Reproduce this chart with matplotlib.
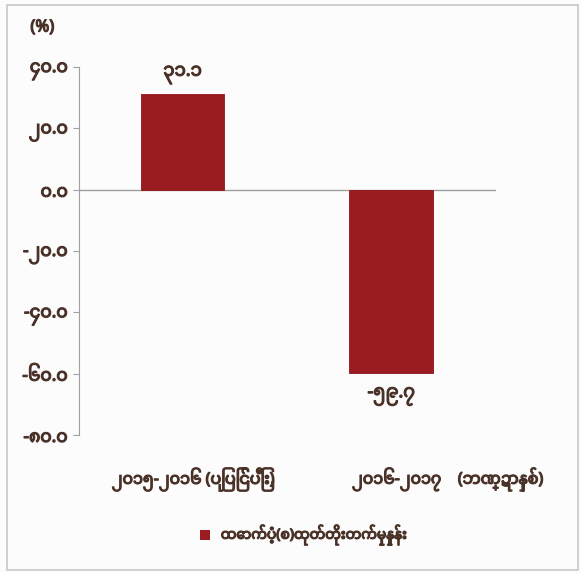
import matplotlib
matplotlib.use("Agg")
import matplotlib.pyplot as plt
import matplotlib.patheffects as pe
from matplotlib.patches import Rectangle

# ဒေတာ
categories = ["၂၀၁၅-၂၀၁၆ (ပြုပြင်ပြီး)", "၂၀၁၆-၂၀၁၇    (ဘဏ္ဍာနှစ်)"]
values = [31.1, -59.7]
value_labels = ["၃၁.၁", "-၅၉.၇"]
yticks = [40, 20, 0, -20, -40, -60, -80]
ytick_labels = ["၄၀.၀", "၂၀.၀", "၀.၀", "-၂၀.၀", "-၄၀.၀", "-၆၀.၀", "-၈၀.၀"]
legend_label = "ထောက်ပံ့(စ)ထုတ်တိုးတက်မှုနှုန်း"
unit_label = "(%)"

fonts = ["Noto Sans Myanmar", "Padauk", "Myanmar Text", "DejaVu Sans"]
plt.rcParams["font.family"] = fonts
txt_color = "#4a3228"
bar_color = "#9b1c20"
# fake bold: the Myanmar font has no bold face here
bold = [pe.withStroke(linewidth=0.9, foreground=txt_color)]

fig = plt.figure(figsize=(5.81, 5.73), dpi=100, facecolor="#fcfcfd")
# outer frame
fig.patches.append(Rectangle((0.012, 0.006), 0.982, 0.985, transform=fig.transFigure,
                             fill=False, edgecolor="#c8c8c8", linewidth=1.2))

ax = fig.add_axes([0.136, 0.241, 0.717, 0.642])
ax.set_facecolor("#fcfcfd")

x = list(range(len(categories)))
ax.bar(x, values, width=0.4, color=bar_color, edgecolor="#8a1519", linewidth=0.6, zorder=3)
ax.axhline(0, color="#a0a0a0", linewidth=1.0, zorder=2)

ax.set_xlim(-0.496, 1.5)
ax.set_ylim(-80, 40)
ax.set_yticks(yticks)
ax.set_yticklabels(ytick_labels, fontsize=12.5, color=txt_color)
for t in ax.get_yticklabels():
    t.set_path_effects(bold)
ax.tick_params(axis="y", direction="out", length=4, color="#a0a0a0", pad=4)
ax.set_xticks([])

for s in ["top", "right", "bottom"]:
    ax.spines[s].set_visible(False)
ax.spines["left"].set_color("#a0a0a0")

# category labels under the plot
for xi, lab in zip(x, categories):
    ax.annotate(lab, (xi + 0.05 + 0.22 * xi, 0), xycoords=("data", "axes fraction"),
                xytext=(0, -32), textcoords="offset points", ha="center", va="center",
                fontsize=11.5, color=txt_color, path_effects=bold)

# value labels
for xi, v, lab in zip(x, values, value_labels):
    off = 14 if v > 0 else -17
    ax.annotate(lab, (xi, v), xytext=(0, off), textcoords="offset points",
                ha="center", va="center", fontsize=13, color=txt_color, path_effects=bold)

fig.text(0.073, 0.952, unit_label, ha="center", va="center", fontsize=12,
         fontweight="bold", color=txt_color, path_effects=bold)

# legend
fig.patches.append(Rectangle((0.345, 0.057), 0.017, 0.018, transform=fig.transFigure,
                             facecolor=bar_color, edgecolor="none"))
fig.text(0.38, 0.066, legend_label, ha="left", va="center", fontsize=10,
         color=txt_color, path_effects=bold)

fig.savefig("out.png", dpi=100, facecolor=fig.get_facecolor())
